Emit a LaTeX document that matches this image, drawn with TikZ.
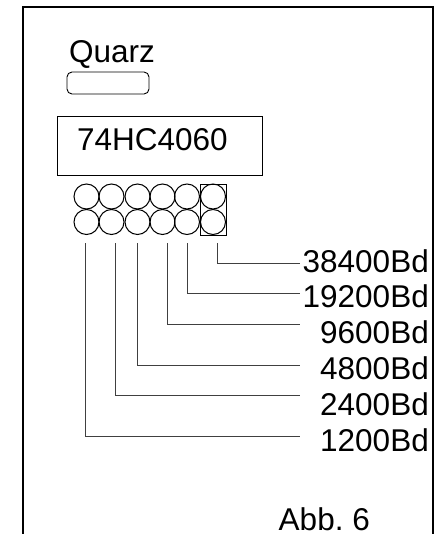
\documentclass[tikz,border=0pt]{standalone}
\usepackage{fontspec}
\setmainfont{Liberation Sans}
\usepackage{tikz}

\tikzset{
    lbl/.style={anchor=base east,inner sep=0pt,font=\fontsize{31.5}{36}\selectfont},
    pin/.style={draw,circle,inner sep=0pt,minimum size=25pt,line width=1pt},
    wire/.style={line width=1pt,draw=black!75}
}

\begin{document}
\begin{tikzpicture}[x=1pt,y=-1pt]
    \useasboundingbox (0,0) rectangle (436,534);
    \draw[line width=1.8pt] (23,534) -- (23,7) -- (433,7) -- (433,534);
    \node[lbl] (quarz) at (155,63) {Quarz};
    \node[draw,rounded corners=5pt,line width=.9pt,minimum width=82pt,minimum height=22pt,inner sep=0pt] (xtal) at (108,83) {};
    \node[draw,line width=.8pt,minimum width=205pt,minimum height=59pt,inner sep=0pt] (ic) at (159.5,145.5) {};
    \node[lbl] (icname) at (228,151) {74HC4060};
    \foreach \n/\x in {a/86.5,b/111.5,c/137.5,d/162.5,e/187,f/213} {
        \node[pin] (\n1) at (\x,196.5) {};
        \node[pin] (\n2) at (\x,222) {};
    }
    \node[draw,line width=.9pt,minimum width=25.5pt,minimum height=51pt,inner sep=0pt] (sel) at (213.5,209.5) {};
    % baud outputs
    \foreach \n/\x/\y/\ty/\t in {f/217.5/263/272/38400Bd,e/187/293/307/19200Bd,d/167.5/324/343/9600Bd,c/137/365/379/4800Bd,b/115/395/415/2400Bd,a/85/436.5/451/1200Bd} {
        \node[lbl] (out\n) at (429,\ty) {\t};
        \coordinate (top\n) at (\x,243);
        \coordinate (end\n) at (300,\y);
        \draw[wire] (top\n) |- (end\n);
    }
    \node[lbl] (abb) at (370,530) {Abb.\ 6};
\end{tikzpicture}
\end{document}
